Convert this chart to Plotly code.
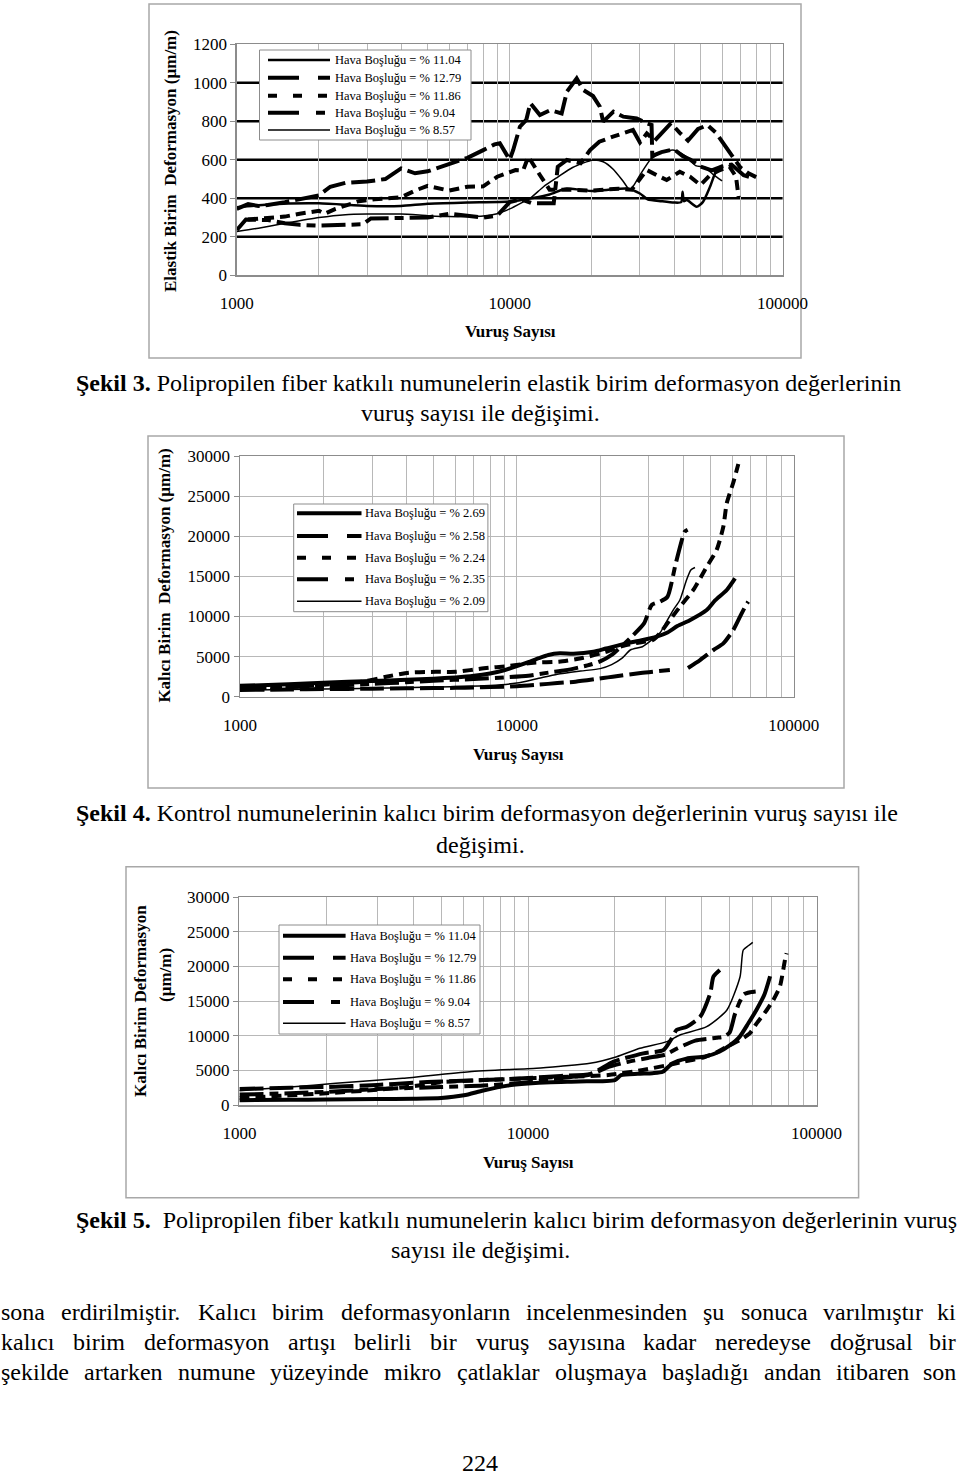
import plotly.graph_objects as go

FONT = 'Liberation Serif'
W, H = 960, 1475

# ---------------- data ----------------
X_TICKVALS = [1000, 2000, 3000, 4000, 5000, 6000, 7000, 8000, 9000,
              10000, 20000, 30000, 40000, 50000, 60000, 70000, 80000, 90000, 100000]
X_TICKTEXT = ['1000', '', '', '', '', '', '', '', '',
              '10000', '', '', '', '', '', '', '', '', '100000']
C1_YTICKS = [0, 200, 400, 600, 800, 1000, 1200]
C1_YTEXT = ['0', '200', '400', '600', '800', '1000', '1200']
C1_BLACKGRID = [200, 400, 600, 800, 1000]
C23_YTICKS = [0, 5000, 10000, 15000, 20000, 25000, 30000]
C23_YTEXT = ['0', '5000', '10000', '15000', '20000', '25000', '30000']

C1_NAMES = ['Hava Boşluğu = % 11.04', 'Hava Boşluğu = % 12.79', 'Hava Boşluğu = % 11.86',
            'Hava Boşluğu = % 9.04', 'Hava Boşluğu = % 8.57']
C2_NAMES = ['Hava Boşluğu = % 2.69', 'Hava Boşluğu = % 2.58', 'Hava Boşluğu = % 2.24',
            'Hava Boşluğu = % 2.35', 'Hava Boşluğu = % 2.09']
C3_NAMES = ['Hava Boşluğu = % 11.04', 'Hava Boşluğu = % 12.79', 'Hava Boşluğu = % 11.86',
            'Hava Boşluğu = % 9.04', 'Hava Boşluğu = % 8.57']

# Chart 1 (elastic strain)
c1_s1_x = [1000, 1300, 2000, 3000, 4000, 5000, 7000, 10000, 12000, 14000, 16000, 18000, 20000,
           23000, 27000, 30000, 32000, 36000, 40000, 42500, 43000, 43500, 44600, 48400, 51000,
           54200, 57300, 60000]
c1_s1_y = [353, 368, 374, 360, 360, 372, 378, 383, 400, 420, 450, 445, 438,
           445, 450, 425, 395, 385, 378, 380, 434, 385, 391, 356, 380,
           460, 547, 570]
c1_s2_x = [1000, 1100, 1200, 1300, 1500, 1700, 2000, 2200, 2500, 3000, 3500, 4000, 4500, 5000,
           5500, 6000, 7000, 8000, 8800, 9200, 10000, 10300, 10900, 11500, 11900, 12900, 14100,
           15500, 16200, 17600, 18600, 20200, 21400, 22000, 24000, 26100, 29200, 31800, 33100,
           33300, 36000, 40000, 43000, 46000, 50000, 55000, 60000, 65000, 72000, 78000]
c1_s2_y = [345, 370, 360, 365, 380, 395, 415, 460, 480, 487, 500, 555, 530, 540,
           560, 575, 610, 650, 680, 686, 600, 651, 772, 807, 894, 833, 858,
           841, 954, 1023, 963, 931, 876, 798, 850, 824, 815, 790, 781,
           620, 640, 655, 620, 600, 565, 545, 565, 575, 520, 505]
c1_s3_x = [1100, 1300, 1500, 1700, 2000, 2100, 2300, 2800, 3200, 4000, 4500, 5000, 5500, 6000,
           7000, 8000, 9000, 10500, 11200, 11700, 12900, 14000, 16000, 20000, 25000, 28000,
           30000, 31800, 34500, 37600, 42000, 45800, 50000, 54300, 59000, 63900, 67500, 69000]
c1_s3_y = [290, 300, 305, 320, 335, 320, 345, 385, 395, 405, 440, 465, 450, 440,
           460, 462, 512, 547, 545, 616, 521, 445, 445, 440, 450, 445,
           500, 547, 521, 495, 538, 512, 469, 521, 547, 564, 512, 405]
c1_s4_x = [1000, 1080, 1300, 1500, 1700, 2000, 2500, 2900, 3100, 4000, 5000, 6000, 7000, 8000,
           9000, 10000, 11000, 12000, 14500, 15000, 16200, 18200, 19700, 21300, 23900, 26000,
           28300, 30000, 31800, 34000, 39000, 42000, 45000, 49000, 53000, 57000, 61000, 65000,
           70000, 75000, 80000]
c1_s4_y = [235, 290, 287, 270, 262, 258, 262, 265, 295, 300, 300, 320, 310, 300,
           310, 380, 395, 375, 374, 564, 599, 582, 651, 694, 720, 737,
           755, 690, 737, 700, 790, 740, 700, 760, 780, 740, 680, 620,
           560, 530, 510]
c1_s5_x = [1000, 1200, 1500, 2000, 2500, 3000, 4000, 5000, 6000, 7000, 8000, 9000, 10000, 11000,
           12000, 13300, 15000, 17000, 20200, 22000, 24000, 26000, 27600, 30000, 32700, 36000,
           40000, 44000, 48000, 52000, 56000, 60000]
c1_s5_y = [227, 245, 270, 300, 315, 318, 318, 310, 305, 305, 308, 320, 345, 375,
           405, 460, 510, 560, 599, 590, 550, 490, 443, 520, 599, 640,
           650, 620, 570, 560, 520, 490]

# Chart 2 (control, permanent strain)
c2_s1_x = [1000, 1500, 2000, 3000, 4000, 5000, 6000, 7000, 8000, 9000, 10000, 11000, 12000,
           13000, 14300, 16000, 18900, 21000, 24900, 28000, 32000, 35000, 38000, 42000, 48500,
           52000, 57300, 61400]
c2_s1_y = [1350, 1550, 1750, 1950, 2100, 2250, 2400, 2600, 2900, 3300, 3800, 4300, 4800,
           5200, 5400, 5350, 5600, 6000, 6650, 7000, 7480, 8000, 8800, 9500, 10800,
           12000, 13300, 14750]
c2_s2_x = [1000, 1500, 2000, 3000, 4000, 5000, 6000, 7000, 8000, 10000, 12000, 14000, 16300,
           20500, 22200, 28000, 35700, None, 41500, 45900, 51300, 55700, 60500, 64000, 66700, 68500]
c2_s2_y = [850, 900, 950, 1000, 1050, 1080, 1100, 1150, 1200, 1300, 1500, 1700, 1870,
           2330, 2490, 2950, 3330, None, 3580, 4570, 5820, 6650, 8310, 9970, 11200, 11840]
c2_s3_x = [1000, 1500, 2000, 2800, 3370, 4070, 5100, 6030, 7600, 9370, 11500, 14200, 17400,
           21000, 24000, 27000, 31000, 32900, 35700, 38800, 43400, 48500, 52700, 55700, 57300,
           60400, 63100]
c2_s3_y = [1000, 1200, 1500, 1900, 2490, 2990, 3100, 3100, 3540, 3830, 4240, 4360, 4860,
           5600, 6300, 6700, 7060, 7930, 9560, 11200, 13300, 16200, 18300, 21200, 24100,
           26600, 29000]
c2_s4_x = [1000, 1500, 2000, 3000, 4000, 5000, 7000, 9000, 11000, 13000, 15000, 18000, 20000,
           22000, 25600, 28800, 30700, 32900, 35000, 37500, 40400, 41400]
c2_s4_y = [1100, 1200, 1300, 1600, 1800, 2000, 2200, 2400, 2600, 3000, 3300, 3900, 4400,
           5200, 7270, 9140, 11430, 11840, 12460, 16620, 20560, 20800]
c2_s5_x = [1000, 2000, 3000, 5000, 8000, 10000, 12000, 14000, 17000, 20000, 22000, 24000,
           25700, 28400, 30000, 32900, 34500, 36700, 38800, 41000, 42500, 44000]
c2_s5_y = [800, 950, 1050, 1200, 1400, 1700, 2300, 2800, 3200, 3500, 4000, 4800,
           5820, 6230, 6800, 7970, 9200, 10800, 12050, 14540, 15800, 16100]

# Chart 3 (fibre, permanent strain)
c3_s1_x = [1000, 1500, 2000, 3000, 4000, 5000, 6000, 7000, 8500, 10000, 12000, 15000, 20000,
           21000, 24000, 27000, 29300, 31600, 35400, 41100, 46000, 50000, 54000, 58000, 62000,
           66000, 69000]
c3_s1_y = [700, 750, 800, 850, 900, 1000, 1400, 2100, 2800, 3100, 3300, 3400, 3600,
           4300, 4500, 4600, 4800, 6000, 6700, 7000, 7700, 8600, 9800, 11800, 13800,
           16000, 18600]
c3_s2_x = [1000, 1500, 2000, 3000, 4000, 5000, 7000, 10000, 13000, 16500, 19800, 25100, 29500,
           31500, 32700, 35500, 39500, 42800, 43900, 46200]
c3_s2_y = [2300, 2500, 2600, 2900, 3200, 3400, 3600, 3900, 4200, 4500, 6260, 7460, 7940,
           9630, 10830, 11310, 12750, 16130, 18530, 19500]
c3_s3_x = [1000, 1500, 2000, 3000, 4000, 5000, 7000, 10000, 14000, 19000, 25000, 30000, 35000,
           40000, 45000, 50100, 54300, 58700, 62000, 67200, 70800, 74600, 77700, 78700]
c3_s3_y = [1000, 1400, 1700, 2200, 2700, 3300, 3600, 3850, 4100, 4330, 5060, 5700, 6300,
           6800, 7600, 8670, 9390, 10360, 11800, 13720, 15170, 17090, 20950, 21910]
c3_s4_x = [1000, 1500, 2000, 3000, 5000, 7000, 10000, 13000, 16500, 19000, 22000, 26000, 30000,
           33000, 38000, 45000, 48000, 50000, 52000, 54000, 56000, 59000, 61500]
c3_s4_y = [1500, 1700, 1900, 2300, 2600, 2800, 3300, 3900, 4400, 5500, 6200, 6800, 7300,
           8200, 9300, 9700, 9900, 10500, 13000, 14800, 16000, 16300, 16400]
c3_s5_x = [1000, 1500, 2160, 3680, 6270, 10700, 13000, 16400, 20300, 24400, 30300, 33600,
           41600, 48900, 54300, 55700, 58000, 60100]
c3_s5_y = [2070, 2600, 3130, 3850, 4810, 5300, 5600, 6020, 6980, 8190, 9150, 10110,
           11310, 13720, 18530, 22390, 23000, 23500]

C1_SERIES = [(c1_s1_x, c1_s1_y), (c1_s2_x, c1_s2_y), (c1_s3_x, c1_s3_y), (c1_s4_x, c1_s4_y), (c1_s5_x, c1_s5_y)]
C2_SERIES = [(c2_s1_x, c2_s1_y), (c2_s2_x, c2_s2_y), (c2_s3_x, c2_s3_y), (c2_s4_x, c2_s4_y), (c2_s5_x, c2_s5_y)]
C3_SERIES = [(c3_s1_x, c3_s1_y), (c3_s2_x, c3_s2_y), (c3_s3_x, c3_s3_y), (c3_s4_x, c3_s4_y), (c3_s5_x, c3_s5_y)]

PARAGRAPH = [
    'sona erdirilmiştir. Kalıcı birim deformasyonların incelenmesinden şu sonuca varılmıştır ki',
    'kalıcı birim deformasyon artışı belirli bir vuruş sayısına kadar neredeyse doğrusal bir',
    'şekilde artarken numune yüzeyinde mikro çatlaklar oluşmaya başladığı andan itibaren son',
]

# ---------------- styles / layout ----------------
LONG = '24px,6px'
SHORT = '10px,6px'
DASHDOT = '24px,6px,9px,6px'
STYLES_C1 = [(2.5, 'solid'), (4, LONG), (4, SHORT), (4, DASHDOT), (1.5, 'solid')]
STYLES_C23 = [(4, 'solid'), (4, LONG), (4, SHORT), (4, DASHDOT), (1.5, 'solid')]
LEG_DASH = ['solid', '31px,19px', '9px,16px', '31px,17px,9px,17px', 'solid']

# Times/Liberation Serif advance widths (em/1000) used to justify the body text
CHAR_W = {'a': 444, 'b': 500, 'c': 444, 'd': 500, 'e': 444, 'f': 333, 'g': 500, 'h': 500, 'i': 278,
          'j': 278, 'k': 500, 'l': 278, 'm': 778, 'n': 500, 'o': 500, 'p': 500, 'q': 500, 'r': 333,
          's': 389, 't': 278, 'u': 500, 'v': 500, 'w': 722, 'x': 500, 'y': 500, 'z': 444, '.': 250,
          'K': 722, 'ç': 444, 'ğ': 500, 'ı': 278, 'ş': 389, 'ü': 500, 'ö': 500}


def word_width(word, size):
    return sum(CHAR_W.get(ch, 500) for ch in word) * size / 1000.0


def px(x):
    return x / W


def py(y):
    return 1 - y / H


fig = go.Figure()
shapes = []
annotations = []

charts = [
    dict(ax='', names=C1_NAMES, series=C1_SERIES, styles=STYLES_C1, shape_lin=False,
         xdom=(236.8, 782.6), ydom=(275.3, 44.3), yrange=[0, 1200], yticks=C1_YTICKS, ytext=C1_YTEXT,
         frame=(149, 4, 801, 358),
         legbox=(259.5, 50, 471, 140), legrows=[60, 77.7, 95.7, 112.7, 130], legline=(268, 330), legtext=333,
         xtitle=(510, 331), ytitles=[(170, 161, 'Elastik Birim  Deformasyon (µm/m)')]),
    dict(ax='2', names=C2_NAMES, series=C2_SERIES, styles=STYLES_C23, shape_lin=True,
         xdom=(240, 793.7), ydom=(696.7, 456), yrange=[0, 30000], yticks=C23_YTICKS, ytext=C23_YTEXT,
         frame=(148, 436, 844, 788),
         legbox=(293.7, 504, 487.9, 611.7), legrows=[513.3, 536, 557.7, 579.3, 601.3], legline=(297, 361.5), legtext=362.5,
         xtitle=(518, 754), ytitles=[(165, 575.6, 'Kalıcı Birim  Deformasyon (µm/m)')]),
    dict(ax='3', names=C3_NAMES, series=C3_SERIES, styles=STYLES_C23, shape_lin=True,
         xdom=(239.4, 816.6), ydom=(1105, 897.3), yrange=[0, 30000], yticks=C23_YTICKS, ytext=C23_YTEXT,
         frame=(126, 866.7, 858.6, 1197.7),
         legbox=(279, 925, 480, 1034), legrows=[935.7, 957.7, 979.3, 1002, 1023.3], legline=(283, 345.6), legtext=347.5,
         xtitle=(528, 1162.7), ytitles=[(141, 1001, 'Kalıcı Birim Deformasyon'), (165, 975, '(µm/m)')]),
]

layout_axes = {}
for ci, c in enumerate(charts):
    a = c['ax']
    xname, yname = 'x' + a, 'y' + a
    gridcol = '#b8b8b8'
    layout_axes['xaxis' + a] = dict(
        type='log', range=[3, 5], domain=[px(c['xdom'][0]), px(c['xdom'][1])], anchor=yname,
        tickmode='array', tickvals=X_TICKVALS, ticktext=X_TICKTEXT, automargin=False,
        showgrid=True, gridcolor=gridcol, gridwidth=1,
        showline=True, linecolor='#8c8c8c', linewidth=1.5, mirror=True,
        ticks='outside', ticklen=12, tickcolor='rgba(0,0,0,0)',
        tickfont=dict(family=FONT, size=17, color='black'), zeroline=False, fixedrange=True)
    layout_axes['yaxis' + a] = dict(
        range=c['yrange'], domain=[py(c['ydom'][0]), py(c['ydom'][1])], anchor=xname,
        tickmode='array', tickvals=c['yticks'], ticktext=c['ytext'], automargin=False,
        showgrid=(ci != 0), gridcolor=gridcol, gridwidth=1,
        showline=True, linecolor='#8c8c8c', linewidth=1.5, mirror=True,
        ticks='outside', ticklen=5, tickcolor='#8c8c8c',
        tickfont=dict(family=FONT, size=17, color='black'), zeroline=False, fixedrange=True)

    if ci == 0:
        for v in C1_BLACKGRID:
            shapes.append(dict(type='line', xref='x domain', yref='y', x0=0, x1=1, y0=v, y1=v,
                               line=dict(color='black', width=2.5), layer='below'))

    for (xs, ys), (w, d), name in zip(c['series'], c['styles'], c['names']):
        fig.add_trace(go.Scatter(
            x=xs, y=ys, mode='lines', name=name, showlegend=False,
            line=dict(color='black', width=w, dash=d,
                      shape='spline' if (c['shape_lin'] or w < 3) else 'linear', smoothing=0.6),
            xaxis=xname, yaxis=yname, hoverinfo='skip'))

    fx0, fy0, fx1, fy1 = c['frame']
    shapes.append(dict(type='rect', xref='paper', yref='paper', x0=px(fx0), x1=px(fx1), y0=py(fy1), y1=py(fy0),
                       line=dict(color='#a8a8a8', width=1.5), layer='below'))

    lx0, ly0, lx1, ly1 = c['legbox']
    shapes.append(dict(type='rect', xref='paper', yref='paper', x0=px(lx0), x1=px(lx1), y0=py(ly1), y1=py(ly0),
                       line=dict(color='#8c8c8c', width=1), fillcolor='white', layer='above'))
    for (w, _), d, name, ry in zip(c['styles'], LEG_DASH, c['names'], c['legrows']):
        shapes.append(dict(type='line', xref='paper', yref='paper',
                           x0=px(c['legline'][0]), x1=px(c['legline'][1]), y0=py(ry), y1=py(ry),
                           line=dict(color='black', width=w, dash=d), layer='above'))
        annotations.append(dict(xref='paper', yref='paper', x=px(c['legtext']), y=py(ry), text=name,
                                xanchor='left', yanchor='middle', showarrow=False,
                                font=dict(family=FONT, size=12.5, color='black')))

    tx, ty = c['xtitle']
    annotations.append(dict(xref='paper', yref='paper', x=px(tx), y=py(ty), text='<b>Vuruş Sayısı</b>',
                            xanchor='center', yanchor='middle', showarrow=False,
                            font=dict(family=FONT, size=17, color='black')))
    for (yx, yy, txt) in c['ytitles']:
        annotations.append(dict(xref='paper', yref='paper', x=px(yx), y=py(yy), text='<b>' + txt + '</b>',
                                xanchor='center', yanchor='middle', showarrow=False, textangle=-90,
                                font=dict(family=FONT, size=17, color='black')))

# ---------------- captions & page text ----------------
CAP = 24
captions = [
    (75, 383, 'left', '<b>Şekil 3.</b> Polipropilen fiber katkılı numunelerin elastik birim deformasyon değerlerinin'),
    (480, 413, 'center', 'vuruş sayısı ile değişimi.'),
    (75, 813, 'left', '<b>Şekil 4.</b> Kontrol numunelerinin kalıcı birim deformasyon değerlerinin vuruş sayısı ile'),
    (480, 845, 'center', 'değişimi.'),
    (75, 1220, 'left', '<b>Şekil 5.</b>  Polipropilen fiber katkılı numunelerin kalıcı birim deformasyon değerlerinin vuruş'),
    (480, 1250, 'center', 'sayısı ile değişimi.'),
]
for x, y, anc, txt in captions:
    annotations.append(dict(xref='paper', yref='paper', x=px(x), y=py(y), text=txt, xanchor=anc,
                            yanchor='middle', showarrow=False, borderpad=0,
                            font=dict(family=FONT, size=CAP, color='black')))

# justified body paragraph
PARA = 24
LINE_L, LINE_R = 0, 957
PARA_Y = [1312, 1342, 1372]
for line, y in zip(PARAGRAPH, PARA_Y):
    words = line.split()
    widths = [word_width(wd, PARA) for wd in words]
    gap = (LINE_R - LINE_L - sum(widths)) / (len(words) - 1)
    xpos = LINE_L
    for i, (wd, wdw) in enumerate(zip(words, widths)):
        last = i == len(words) - 1
        annotations.append(dict(xref='paper', yref='paper', x=px(LINE_R if last else xpos), y=py(y), text=wd,
                                xanchor='right' if last else 'left', yanchor='middle', showarrow=False,
                                borderpad=0, font=dict(family=FONT, size=PARA, color='black')))
        xpos += wdw + gap
annotations.append(dict(xref='paper', yref='paper', x=px(480), y=py(1463), text='224', xanchor='center',
                        yanchor='middle', showarrow=False, font=dict(family=FONT, size=PARA, color='black')))

fig.update_layout(
    template='none',
    width=W, height=H, autosize=False,
    margin=dict(l=0, r=0, t=0, b=0, pad=0, autoexpand=False),
    paper_bgcolor='white', plot_bgcolor='white', font=dict(family=FONT, color='black'),
    showlegend=False, shapes=shapes, annotations=annotations,
    **layout_axes)

fig.write_html('out.html', config=dict(displayModeBar=False, staticPlot=True))
